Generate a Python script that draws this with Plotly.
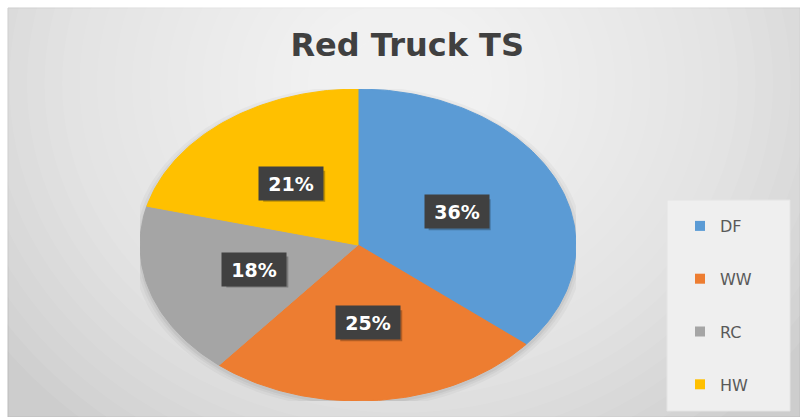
import math
import plotly.graph_objects as go

# ---- data ----
categories = ["DF", "WW", "RC", "HW"]
values = [36, 25, 18, 21]
colors = ["#5B9BD5", "#ED7D31", "#A5A5A5", "#FFC000"]
title_text = "Red Truck TS"

W, H = 800, 417
fig = go.Figure()

total = float(sum(values))

# Elliptical pie drawn on unit axes (the stretched look of the original)
start = 0.0
label_pos = []
for cat, val, col in zip(categories, values, colors):
    frac = val / total
    a0 = start * 2 * math.pi
    a1 = (start + frac) * 2 * math.pi
    n = max(8, int(frac * 360))
    xs, ys = [0.0], [0.0]
    for i in range(n + 1):
        a = a0 + (a1 - a0) * i / n
        xs.append(math.sin(a))
        ys.append(math.cos(a))
    xs.append(0.0)
    ys.append(0.0)
    fig.add_trace(go.Scatter(
        x=xs, y=ys, mode="lines", fill="toself", fillcolor=col,
        line=dict(color=col, width=1), showlegend=False, hoverinfo="skip",
        name=cat))
    mid = (a0 + a1) / 2
    label_pos.append((0.5 * math.sin(mid), 0.5 * math.cos(mid), val))
    start += frac

# legend entries
for cat, col in zip(categories, colors):
    fig.add_trace(go.Scatter(
        x=[None], y=[None], mode="markers", name=cat, legendgroup=cat,
        marker=dict(symbol="square", size=10, color=col),
        showlegend=True))

# background: white page, gray frame with radial light gradient
shapes = [dict(type="rect", xref="paper", yref="paper",
               x0=8 / W, x1=1.0, y0=0.0, y1=1 - 8 / H,
               fillcolor="#cdcdcd", line=dict(color="#bcbcbc", width=1),
               layer="below")]
cxp, cyp = 0.50, 0.80
N = 26
for i in range(N):
    r = 1.0 - i / N * 0.92
    shapes.append(dict(type="circle", xref="paper", yref="paper",
                       x0=cxp - 0.62 * r, x1=cxp + 0.62 * r,
                       y0=cyp - 1.05 * r, y1=cyp + 1.05 * r,
                       fillcolor="white", opacity=0.065,
                       line=dict(width=0), layer="below"))
# soft pie shadow
for grow, op in [(1.035, 0.03), (1.02, 0.04), (1.008, 0.05)]:
    shapes.append(dict(type="circle", xref="x", yref="y",
                       x0=-grow, x1=grow, y0=-grow - 0.015, y1=grow - 0.015,
                       fillcolor="black", opacity=op, line=dict(width=0),
                       layer="below"))
# legend box
shapes.append(dict(type="rect", xref="paper", yref="paper",
                   x0=667 / W, x1=790 / W, y0=1 - 411 / H, y1=1 - 200 / H,
                   fillcolor="#efefef", line=dict(color="#e4e4e4", width=1),
                   layer="below"))

# data labels with dark boxes (+ drop shadow as pixel-sized shapes)
annotations = []
for lx, ly, val in label_pos:
    pct = round(val / total * 100)
    shapes.append(dict(type="rect", xref="x", yref="y",
                       xsizemode="pixel", ysizemode="pixel",
                       xanchor=lx, yanchor=ly,
                       x0=-31 + 3, x1=31 + 3, y0=-15.5 - 3, y1=15.5 - 3,
                       fillcolor="black", opacity=0.25, line=dict(width=0),
                       layer="above"))
    annotations.append(dict(
        x=lx, y=ly, xref="x", yref="y", text=f"<b>{pct}%</b>", showarrow=False,
        width=62, height=31, bgcolor="#404040",
        font=dict(color="white", size=19, family="DejaVu Sans")))

fig.update_layout(
    width=W, height=H,
    margin=dict(l=0, r=0, t=0, b=0),
    paper_bgcolor="white", plot_bgcolor="rgba(0,0,0,0)",
    title=dict(text=f"<b>{title_text}</b>", x=0.509, xanchor="center",
               y=1 - 45 / H, yanchor="middle", yref="container",
               font=dict(size=32, color="#404040", family="DejaVu Sans")),
    xaxis=dict(domain=[140 / W, 576 / W], range=[-1, 1], visible=False,
               fixedrange=True),
    yaxis=dict(domain=[1 - 401 / H, 1 - 89 / H], range=[-1, 1], visible=False,
               fixedrange=True),
    showlegend=True,
    legend=dict(x=680 / W, xanchor="left", y=1 - 209 / H, yanchor="top",
                bgcolor="rgba(0,0,0,0)", tracegroupgap=29,
                font=dict(size=16, color="#595959", family="DejaVu Sans")),
    shapes=shapes,
    annotations=annotations,
)

fig.write_html("out.html")
